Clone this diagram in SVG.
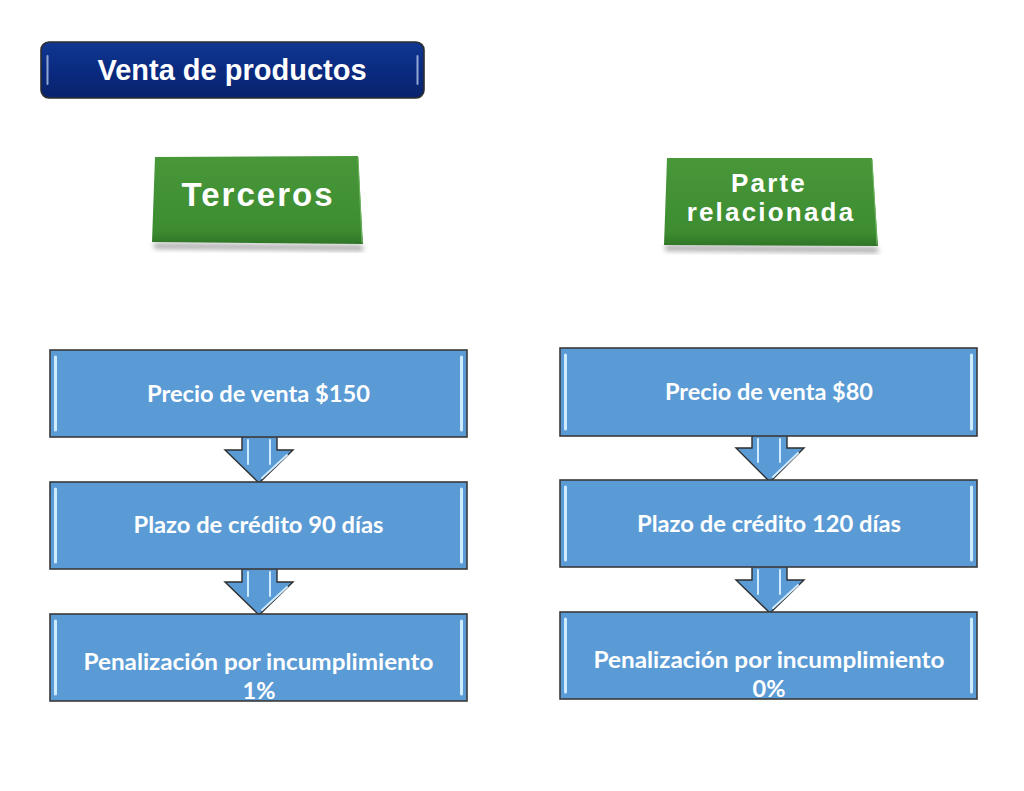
<svg xmlns="http://www.w3.org/2000/svg" width="1024" height="791" viewBox="0 0 1024 791">
<defs>
<style>
.box{fill:#5B9BD5;stroke:#3A3A3A;stroke-width:1.6}
.hl{stroke:#CFEBFF;stroke-width:3;stroke-linecap:round;fill:none}
.arrow{fill:#5B9BD5;stroke:#2E2E2E;stroke-width:1.4;stroke-linejoin:miter}
.ahl{stroke:#CFEBFF;stroke-width:2;stroke-linecap:round;fill:none}
.t{font-family:Lato,"Open Sans","Liberation Sans",sans-serif;font-weight:bold;font-size:23.5px;fill:#FFFFFF;text-anchor:middle}
.g{font-family:"Liberation Sans",Arial,sans-serif;font-weight:bold;fill:#FFFFFF;text-anchor:middle}
</style>
<linearGradient id="navy" x1="0" y1="0" x2="0" y2="1">
<stop offset="0" stop-color="#113891"/>
<stop offset="0.5" stop-color="#0A2A80"/>
<stop offset="1" stop-color="#09246C"/>
</linearGradient>
<linearGradient id="green" x1="0" y1="0" x2="0" y2="1">
<stop offset="0" stop-color="#48983A"/>
<stop offset="0.85" stop-color="#3D8C31"/>
<stop offset="1" stop-color="#2F7526"/>
</linearGradient>
<filter id="sh" x="-10%" y="-10%" width="120%" height="130%">
<feGaussianBlur stdDeviation="2.5"/>
</filter>
</defs>
<rect width="1024" height="791" fill="#FFFFFF"/>

<g id="title">
<rect x="41" y="42" width="383" height="56" rx="8" fill="url(#navy)" stroke="#2E2E2E" stroke-width="1.6"/>
<line x1="47.5" y1="56" x2="47.5" y2="84" stroke="#8FA6D6" stroke-width="2" stroke-linecap="round"/>
<line x1="417.5" y1="56" x2="417.5" y2="84" stroke="#8FA6D6" stroke-width="2" stroke-linecap="round"/>
<text class="g" x="232" y="80" font-size="29">Venta de productos</text>
</g>

<g id="terceros">
<polygon points="155,249 364,251 362,245 153,243" fill="#9A9A9A" filter="url(#sh)" opacity="0.8"/>
<polygon points="155,157 358,156 363,244 152,242" fill="url(#green)"/>
<line x1="358" y1="157" x2="362" y2="243" stroke="#6DB45E" stroke-width="1"/>
<text class="g" x="258" y="206" font-size="33" letter-spacing="2">Terceros</text>
</g>

<g id="parte">
<polygon points="666,251 879,253 877,247 664,245" fill="#9A9A9A" filter="url(#sh)" opacity="0.8"/>
<polygon points="667,158 872,158 878,246 664,245" fill="url(#green)"/>
<line x1="872" y1="159" x2="877" y2="245" stroke="#6DB45E" stroke-width="1"/>
<text class="g" x="769" y="192" font-size="26" letter-spacing="2.2">Parte</text>
<text class="g" x="771" y="221" font-size="26" letter-spacing="2.2">relacionada</text>
</g>

<g id="connectors">
<path class="arrow" d="M242,437 L242,450 L225,450 L259,483 L293,450 L277,450 L277,437"/>
<line class="ahl" x1="248" y1="440" x2="248" y2="464"/>
<line class="ahl" x1="270" y1="440" x2="270" y2="464"/>
<line class="ahl" x1="287" y1="455" x2="262" y2="478"/>

<path class="arrow" d="M242,569 L242,582 L225,582 L259,615 L293,582 L277,582 L277,569"/>
<line class="ahl" x1="248" y1="572" x2="248" y2="596"/>
<line class="ahl" x1="270" y1="572" x2="270" y2="596"/>
<line class="ahl" x1="287" y1="587" x2="262" y2="610"/>

<path class="arrow" d="M752,436 L752,448 L736,448 L770,482 L804,448 L787,448 L787,436"/>
<line class="ahl" x1="758" y1="439" x2="758" y2="462"/>
<line class="ahl" x1="780" y1="439" x2="780" y2="462"/>
<line class="ahl" x1="798" y1="453" x2="773" y2="477"/>

<path class="arrow" d="M752,567 L752,580 L736,580 L770,613 L804,580 L787,580 L787,567"/>
<line class="ahl" x1="758" y1="570" x2="758" y2="594"/>
<line class="ahl" x1="780" y1="570" x2="780" y2="594"/>
<line class="ahl" x1="798" y1="585" x2="773" y2="608"/>
</g>

<g id="l1">
<rect class="box" x="50" y="350" width="417" height="87"/>
<line class="hl" x1="55.5" y1="357" x2="55.5" y2="430"/>
<line class="hl" x1="461.5" y1="357" x2="461.5" y2="430"/>
<text class="t" x="258.5" y="402" textLength="223" lengthAdjust="spacingAndGlyphs">Precio de venta $150</text>
</g>
<g id="l2">
<rect class="box" x="50" y="482" width="417" height="87"/>
<line class="hl" x1="55.5" y1="489" x2="55.5" y2="562"/>
<line class="hl" x1="461.5" y1="489" x2="461.5" y2="562"/>
<text class="t" x="258.5" y="533" textLength="250" lengthAdjust="spacingAndGlyphs">Plazo de crédito 90 días</text>
</g>
<g id="l3">
<rect class="box" x="50" y="614" width="417" height="87"/>
<line class="hl" x1="55.5" y1="621" x2="55.5" y2="694"/>
<line class="hl" x1="461.5" y1="621" x2="461.5" y2="694"/>
<text class="t" x="258.5" y="670" textLength="350" lengthAdjust="spacingAndGlyphs">Penalización por incumplimiento</text>
<text class="t" x="259" y="699">1%</text>
</g>

<g id="r1">
<rect class="box" x="560" y="348" width="417" height="88"/>
<line class="hl" x1="565.5" y1="355" x2="565.5" y2="429"/>
<line class="hl" x1="971.5" y1="355" x2="971.5" y2="429"/>
<text class="t" x="769" y="400" textLength="208" lengthAdjust="spacingAndGlyphs">Precio de venta $80</text>
</g>
<g id="r2">
<rect class="box" x="560" y="480" width="417" height="87"/>
<line class="hl" x1="565.5" y1="487" x2="565.5" y2="560"/>
<line class="hl" x1="971.5" y1="487" x2="971.5" y2="560"/>
<text class="t" x="769" y="532" textLength="264" lengthAdjust="spacingAndGlyphs">Plazo de crédito 120 días</text>
</g>
<g id="r3">
<rect class="box" x="560" y="612" width="417" height="87"/>
<line class="hl" x1="565.5" y1="619" x2="565.5" y2="692"/>
<line class="hl" x1="971.5" y1="619" x2="971.5" y2="692"/>
<text class="t" x="769" y="668" textLength="351" lengthAdjust="spacingAndGlyphs">Penalización por incumplimiento</text>
<text class="t" x="769" y="697">0%</text>
</g>
</svg>
